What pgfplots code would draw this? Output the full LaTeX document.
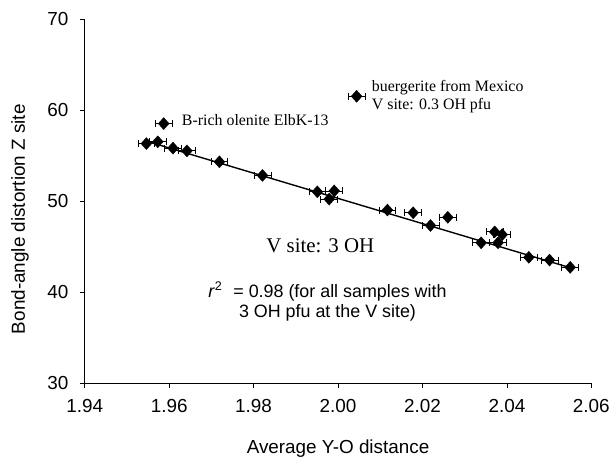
\documentclass[border=0pt]{standalone}
\usepackage{pgfplots}
\pgfplotsset{compat=1.18}
\usepackage{pgfplotstable}
\usepackage{fontspec}
\setmainfont{Liberation Serif}
\setsansfont{Liberation Sans}

% x, y, x error
\pgfplotstableread{
x       y      ex
1.9546  56.3   0.002
1.9573  56.5   0.002
1.9609  55.8   0.002
1.9642  55.5   0.002
1.9719  54.3   0.002
1.9821  52.8   0.002
1.9951  51.0   0.002
1.9991  51.1   0.002
1.9979  50.2   0.002
2.0117  49.0   0.002
2.0178  48.7   0.002
2.0219  47.3   0.002
2.0260  48.2   0.002
2.0339  45.4   0.002
2.0371  46.6   0.002
2.0389  46.3   0.002
2.0379  45.4   0.002
2.0452  43.8   0.002
2.0501  43.5   0.002
2.0550  42.7   0.002
}\threeoh

\pgfplotstableread{
x       y      ex
1.9587  58.5   0.002
2.0044  61.5   0.002
}\outliers

\begin{document}
\begin{tikzpicture}
\begin{axis}[
    scale only axis,
    width=508bp, height=365bp,
    xmin=1.94, xmax=2.06,
    ymin=30, ymax=70,
    xtick={1.94,1.96,...,2.06},
    ytick={30,40,...,70},
    axis lines*=left,
    axis line style={line width=0.8pt},
    tick style={black, line width=0.8pt},
    tick align=outside,
    major tick length=5bp,
    /pgf/number format/assume math mode=true,
    ticklabel style={font=\sffamily\fontsize{19}{22}\selectfont},
    yticklabel style={xshift=-8bp},
    xticklabel style={yshift=-8bp, /pgf/number format/.cd, fixed, fixed zerofill, precision=2},
    xlabel={Average Y-O distance},
    ylabel={Bond-angle distortion Z site},
    every axis x label/.style={at={(axis description cs:0.5,0)}, anchor=center, yshift=-66bp,
        font=\sffamily\fontsize{19}{22}\selectfont},
    every axis y label/.style={at={(axis description cs:-0.128,0.45)}, anchor=center, rotate=90,
        font=\sffamily\fontsize{19}{22}\selectfont},
    clip=false,
]

\addplot[black, line width=1.4pt] coordinates {(1.9546,56.57) (2.0550,42.66)};

\addplot[only marks, black, mark=diamond*, mark size=6bp,
    mark options={fill=black, xscale=1.2},
    error bars/.cd, x dir=both, x explicit,
    error bar style={line width=0.8pt},
    error mark options={rotate=90, mark size=3.5bp, line width=0.8pt}]
    table[x=x, y=y, x error=ex] {\threeoh};

\addplot[only marks, black, mark=diamond*, mark size=6bp,
    mark options={fill=black, xscale=1.2},
    error bars/.cd, x dir=both, x explicit,
    error bar style={line width=0.8pt},
    error mark options={rotate=90, mark size=3.5bp, line width=0.8pt}]
    table[x=x, y=y, x error=ex] {\outliers};

\node[anchor=west, font=\fontsize{16}{18}\selectfont] at (axis cs:1.9622,58.9) {B-rich olenite ElbK-13};
\node[anchor=west, align=left, font=\fontsize{16}{18}\selectfont] at (axis cs:2.0072,61.5)
    {buergerite from Mexico\\V site: 0.3 OH pfu};
\node[font=\fontsize{21}{24}\selectfont] at (axis cs:1.9958,45.1) {V site: 3 OH};
\node[align=center, font=\sffamily\fontsize{18}{21}\selectfont] at (axis cs:1.9975,38.9)
    {\textit{r}\textsuperscript{2}\,\, = 0.98 (for all samples with\\3 OH pfu at the V site)};

\coordinate (ll) at (axis cs:1.94,30);
\end{axis}
\path[use as bounding box] (ll) ++(-85bp,-75bp) rectangle ++(613bp,459bp);
\end{tikzpicture}
\end{document}
